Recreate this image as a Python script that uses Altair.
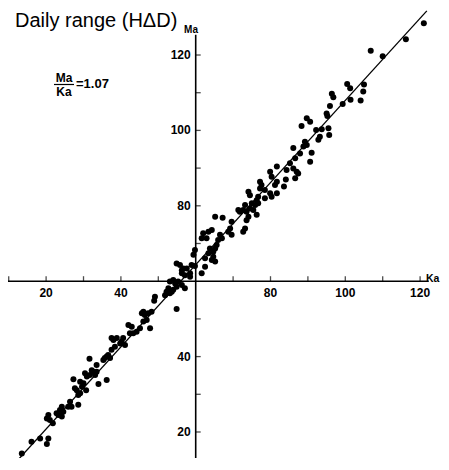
import altair as alt
import pandas as pd

# Scatter values (Ka, Ma)
ka = [121.0,116.2,110.0,106.8,105.0,104.8,104.1,100.5,101.3,101.4,99.3,96.4,96.8,95.9,95.0,95.2,95.5,95.7,93.7,92.2,
      89.7,90.6,88.3,93.2,92.8,89.2,88.8,89.7,86.1,
      87.9,91.0,90.6,86.6,85.2,86.1,87.0,87.4,84.3,86.6,84.1,83.6,81.7,79.9,80.3,81.7,81.2,81.7,79.9,80.3,
      77.2,77.6,77.2,78.5,78.5,76.7,76.3,74.1,74.5,75.9,76.7,75.0,73.2,72.7,73.6,74.5,75.4,71.8,71.4,74.1,
      73.6,76.3,73.2,72.7,65.2,67.2,69.6,69.2,68.7,69.6,66.5,67.0,66.0,64.3,63.4,62.0,61.6,62.9,65.6,65.2,
      64.7,63.8,63.4,64.7,64.3,65.2,62.5,62.5,61.6,59.4,59.8,58.9,59.8,57.6,56.3,55.8,57.1,58.5,
      54.9,56.7,56.3,58.5,54.0,53.1,54.5,54.9,52.7,53.6,52.2,53.1,54.0,55.3,56.3,51.8,49.1,48.9,57.1,
      54.9,48.2,47.3,46.0,46.4,45.6,46.9,46.0,47.8,45.1,44.2,43.3,42.9,42.0,42.4,40.6,40.2,41.1,39.8,38.9,
      38.0,38.4,37.5,37.5,36.2,37.1,36.6,35.3,35.7,31.6,33.5,32.6,33.1,31.7,32.2,30.9,33.5,30.4,29.1,30.0,
      29.6,27.3,27.7,28.2,28.6,29.1,30.7,34.0,36.2,28.6,26.4,25.9,26.8,24.2,23.7,24.6,23.3,24.2,22.8,20.6,
      20.2,21.0,21.8,18.4,16.1,20.6,20.2,13.5]
ma = [128.4,124.2,119.7,121.1,112.2,110.3,107.9,112.3,111.2,108.1,107.0,109.7,108.8,106.5,104.5,103.8,100.6,98.8,100.3,100.1,
      103.2,102.3,101.2,98.3,97.5,97.0,95.7,96.1,95.3,
      93.9,94.1,91.7,92.6,91.3,89.9,89.0,88.6,89.5,87.3,87.0,85.1,90.4,89.0,87.7,86.4,85.5,83.3,83.3,82.4,
      86.4,85.5,84.6,84.2,82.0,82.4,81.5,83.7,82.8,80.2,80.7,80.7,80.2,78.9,78.4,79.3,78.9,78.4,78.9,77.1,
      76.2,77.6,74.0,73.1,77.1,76.8,75.8,74.0,73.1,72.3,72.3,71.4,70.9,73.6,73.1,72.7,71.4,71.4,69.6,68.7,
      67.8,68.7,67.4,66.5,65.6,65.2,66.1,63.8,62.1,67.0,68.3,64.3,64.0,63.4,62.9,64.3,61.6,61.2,
      64.7,63.4,62.1,62.1,60.3,59.9,59.4,58.5,58.1,57.2,57.2,56.8,57.7,59.9,59.0,56.3,55.9,54.8,58.1,
      52.6,51.9,51.5,51.9,51.0,51.5,49.7,49.3,47.5,47.5,46.6,46.2,47.9,48.4,46.2,44.9,44.0,43.1,43.5,44.9,
      44.4,42.6,41.8,44.9,40.0,39.6,40.4,39.1,39.6,39.4,37.8,36.0,35.1,35.1,36.4,34.7,36.0,35.6,33.3,32.9,
      32.0,34.0,31.6,31.1,29.8,30.3,31.1,32.7,33.8,27.2,28.0,26.7,26.7,26.7,25.8,25.4,24.5,24.1,25.0,24.5,
      23.6,23.2,22.3,18.3,17.4,18.3,16.8,14.3]

# Regression line end points
line_ka = [11.2, 121.8]
line_ma = [11.2, 131.7]

# Axis ticks and labels
tick_vals = [10, 20, 30, 40, 50, 70, 80, 90, 100, 110, 120]
x_label_vals = [20, 40, 80, 100, 120]
y_label_vals = [20, 40, 80, 100, 120]
origin = 60
x_axis_span = [9.6, 122.3]
y_axis_span = [125.4, 5.0]

X_DOMAIN = [9.81, 125.59]
Y_DOMAIN = [13.1, 132.47]
xs = alt.Scale(domain=X_DOMAIN, nice=False, zero=False)
ys = alt.Scale(domain=Y_DOMAIN, nice=False, zero=False)

pts = pd.DataFrame({"Ka": ka, "Ma": ma})
line_df = pd.DataFrame({"Ka": line_ka, "Ma": line_ma})

FONT = "Liberation Sans"

scatter = alt.Chart(pts).mark_circle(size=36, color="black", opacity=1).encode(
    x=alt.X("Ka:Q", scale=xs, axis=None),
    y=alt.Y("Ma:Q", scale=ys, axis=None),
)

fit = alt.Chart(line_df).mark_line(color="black", strokeWidth=1.3, clip=True).encode(
    x=alt.X("Ka:Q", scale=xs, axis=None),
    y=alt.Y("Ma:Q", scale=ys, axis=None),
)

haxis = alt.Chart(pd.DataFrame({"a": [x_axis_span[0]], "b": [x_axis_span[1]], "y": [origin]})).mark_rule(
    color="black", strokeWidth=1.6).encode(
    x=alt.X("a:Q", scale=xs, axis=None), x2="b:Q", y=alt.Y("y:Q", scale=ys, axis=None))

vaxis = alt.Chart(pd.DataFrame({"a": [y_axis_span[0]], "b": [y_axis_span[1]], "x": [origin]})).mark_rule(
    color="black", strokeWidth=1.6, clip=True).encode(
    y=alt.Y("a:Q", scale=ys, axis=None), y2="b:Q", x=alt.X("x:Q", scale=xs, axis=None))

ticks_df = pd.DataFrame({"v": tick_vals, "o": [origin] * len(tick_vals)})
xticks = alt.Chart(ticks_df).mark_tick(orient="vertical", size=5, thickness=1.3, color="black", yOffset=-2.5).encode(
    x=alt.X("v:Q", scale=xs, axis=None), y=alt.Y("o:Q", scale=ys, axis=None))
yticks = alt.Chart(ticks_df).mark_tick(orient="horizontal", size=5, thickness=1.3, color="black", xOffset=2.5).encode(
    y=alt.Y("v:Q", scale=ys, axis=None), x=alt.X("o:Q", scale=xs, axis=None))

xl_df = pd.DataFrame({"v": x_label_vals, "o": [origin] * len(x_label_vals), "t": [str(v) for v in x_label_vals]})
xlabels = alt.Chart(xl_df).mark_text(font=FONT, fontSize=12, fontWeight="bold", dy=12, baseline="middle",
                                     align="center", color="black").encode(
    x=alt.X("v:Q", scale=xs, axis=None), y=alt.Y("o:Q", scale=ys, axis=None), text="t:N")

yl_df = pd.DataFrame({"v": y_label_vals, "o": [origin] * len(y_label_vals), "t": [str(v) for v in y_label_vals]})
ylabels = alt.Chart(yl_df).mark_text(font=FONT, fontSize=12, fontWeight="bold", dx=-5, baseline="middle",
                                     align="right", color="black").encode(
    y=alt.Y("v:Q", scale=ys, axis=None), x=alt.X("o:Q", scale=xs, axis=None), text="t:N")

def label(txt, x, y, size, weight="normal", align="left", baseline="alphabetic"):
    return alt.Chart(pd.DataFrame({"t": [txt]})).mark_text(
        font=FONT, fontSize=size, fontWeight=weight, align=align, baseline=baseline, color="black"
    ).encode(x=alt.value(x), y=alt.value(y), text="t:N")

title = label("Daily range (HΔD)", 7, 19, 20)
ma_lab = label("Ma", 183, 25, 10, "bold", "center")
ka_lab = label("Ka", 418, 271, 10.5, "bold", "left", "middle")
frac_top = label("Ma", 56, 74, 12, "bold", "center")
frac_bot = label("Ka", 56, 88, 12, "bold", "center")
frac_eq = label("=1.07", 68, 76, 13, "bold", "left", "middle")
frac_bar = alt.Chart(pd.DataFrame({"t": [0]})).mark_rule(color="black", strokeWidth=1.2).encode(
    x=alt.value(46), x2=alt.value(66), y=alt.value(76.5))

chart = alt.layer(
    haxis, vaxis, xticks, yticks, fit, scatter, xlabels, ylabels,
    title, ma_lab, ka_lab, frac_top, frac_bot, frac_eq, frac_bar
).properties(
    width=433, height=450,
    autosize=alt.AutoSizeParams(type="none"), padding=0
).configure_view(stroke=None)

chart.save("out.html", embed_options={"renderer": "svg", "actions": False})
